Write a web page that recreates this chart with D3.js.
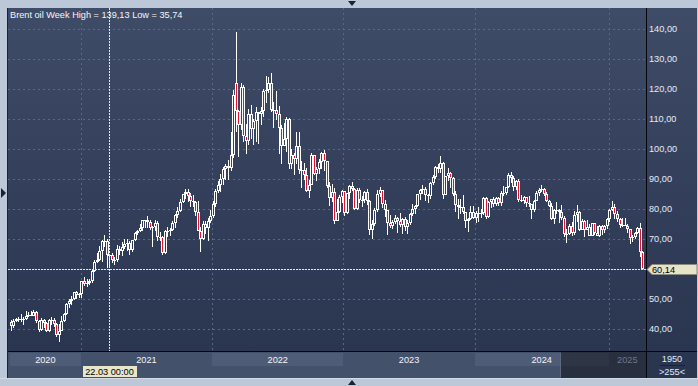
<!DOCTYPE html>
<html><head><meta charset="utf-8">
<script src="https://cdn.jsdelivr.net/npm/d3@7/dist/d3.min.js"></script>
<style>
html,body{margin:0;padding:0;background:#bcc8d8;}
svg{display:block;}
text{font-family:"Liberation Sans",Arial,sans-serif;}
</style>
</head><body>
<svg id="c" width="698" height="386"></svg>
<script>
// ---------- DATA ----------
const instrument = "Brent oil";
const period = "Week";
const firstWeek = "2020-06-22";   // Monday of the first weekly bar
// weekly OHLC, 2020-06-22 ... 2025-04-07
const opens = [
 42.2,41.0,42.8,43.2,43.1,43.3,43.5,44.4,44.8,44.35,45.8,42.7,39.8,43.15,41.9,39.3,42.85,42.9,41.8,37.9,39.45,42.8,44.96,48.2,49.25,49.97,52.26,51.29,
 51.8,55.99,55.1,55.41,55.88,59.34,62.43,62.91,66.13,69.36, 69.22,64.53,64.57,62.95,62.95,66.77,66.11,67.25,68.28,68.71, 66.44,69.63,71.89,72.69,73.51,76.18,76.17,75.55,73.59,74.1, 75.41,70.7,70.59,65.18,72.7,72.61,72.92,75.34,78.09,79.28, 82.39,84.86,85.53,84.38,82.74,82.17,78.89,72.72,69.88,75.15, 73.52,76.14,
 77.78,81.75,86.06,87.89,90.03,93.27,94.44,93.54,97.93,122.0, 112.67,107.93,120.65,104.39,102.78,111.7,106.65,109.34,112.39,111.55, 112.55,119.43,119.72,122.01,113.12,113.12,111.63,107.02,101.16,103.2, 110.01,94.92,98.15,96.72,100.99,93.02,92.84,91.35,86.15,87.96, 97.92,91.63,93.5,95.77,98.57,95.99,87.62,83.63,85.57,76.1, 79.04,83.92,
 85.91,78.57,85.28,87.63,86.66,79.94,86.39,83.0,83.16,85.83, 82.78,72.97,74.99,79.77,85.12,86.31,81.66,79.54,75.3,74.17, 75.58,76.95,76.13,74.79,76.61,73.85,75.41,78.47,79.87,81.07, 84.99,86.24,86.81,84.8,84.48,88.55,90.65,93.93,93.27,95.31, 84.58,90.89,92.16,90.48,84.89,81.43,80.61,80.58,78.88,75.84, 76.55,79.07,
 77.04,78.76,78.29,78.56,83.55,77.33,82.19,83.47,81.62,83.55, 82.08,85.34,85.43,87.48,91.17,90.45,87.29,89.5,82.96,82.79, 83.98,82.12,81.62,79.62,82.62,85.24,86.41,86.54,85.03,82.63, 81.13,76.81,79.66,79.68,79.02,76.93,71.61,71.61,74.49,71.98, 78.05,79.04,73.06,76.05,73.1,73.87,71.04,75.17,71.84,71.12, 74.49,72.94,74.17,
 76.51,79.76,80.79,78.5,76.76,74.66,74.74,74.43,73.18,70.36,70.58,72.16,73.63,65.58
];
const highs = [
 43.0,43.5,43.8,43.9,44.9,44.0,46.0,45.7,45.9,46.2,46.0,43.0,43.8,43.2,42.5,43.5,43.9,43.6,41.9,41.6,44.2,45.2,48.8,49.9,50.9,52.5,52.8,52.0,
 56.0,57.4,56.7,56.7,59.8,63.0,65.5,67.7,69.6,71.4, 69.9,65.0,65.4,64.1,67.9,67.6,69.0,69.9,70.0,69.3, 69.7,72.3,73.1,74.9,76.4,76.5,77.8,76.3,74.3,76.4, 75.9,72.3,70.9,72.9,74.0,73.6,76.0,78.5,80.8,83.5, 85.1,86.7,86.7,85.2,84.6,82.5,82.5,74.0,76.0,75.9, 76.9,79.7,
 82.5,86.7,89.5,91.7,94.0,95.0,96.2,105.8,119.8,139.13, 112.9,122.0,121.5,108.2,113.2,114.8,110.1,114.0,112.5,114.0, 120.0,124.4,124.0,125.2,115.7,119.5,114.3,108.0,108.8,110.8, 110.5,100.1,98.8,105.6,105.8,96.0,95.4,93.8,89.7,98.8, 98.0,94.0,96.7,98.9,99.6,96.0,89.0,88.5,87.0,83.3, 84.5,86.2,
 86.0,85.4,87.9,89.1,87.0,86.9,86.9,84.4,86.0,86.7, 82.9,76.5,80.4,86.4,87.5,86.4,83.0,79.8,77.9,76.4, 78.0,77.4,78.7,76.9,77.3,76.2,78.6,81.7,81.2,85.1, 86.7,88.1,87.2,85.1,88.9,91.2,94.3,95.0,97.7,95.6, 91.0,93.8,92.3,90.8,85.9,83.5,83.5,84.7,79.0,77.0, 80.9,81.1,
 79.3,80.7,80.1,84.0,84.0,82.6,83.5,84.0,84.0,84.0, 86.0,87.7,87.5,91.9,92.2,91.0,89.7,89.9,84.5,84.2, 84.0,84.2,81.8,83.0,86.0,87.0,88.0,87.0,85.8,83.0, 81.9,80.0,82.2,79.9,81.4,77.8,73.5,75.0,75.7,79.3, 81.2,79.5,76.6,76.2,76.2,75.0,75.5,75.3,74.3,74.6, 74.6,74.6,77.0,
 80.0,82.6,81.5,79.4,77.0,77.1,77.1,74.9,73.3,71.4,72.3,74.0,75.3,66.0
];
const lows = [
 39.5,40.5,42.2,42.2,42.5,41.5,43.0,44.0,44.2,44.2,42.0,39.0,39.3,40.5,38.9,39.0,41.5,40.6,37.3,35.74,39.3,42.3,44.8,47.0,48.1,49.8,49.9,50.3,
 50.4,54.5,54.1,54.6,55.5,59.1,61.9,62.6,62.3,67.3, 60.5,60.3,61.9,61.5,62.4,64.6,64.5,66.8,66.0,64.6, 65.6,69.4,71.3,72.5,72.8,73.6,73.7,72.9,67.4,72.8, 69.5,69.3,64.6,65.0,70.6,71.1,72.6,73.6,77.1,79.0, 82.0,83.5,82.2,80.6,80.7,77.7,72.6,65.7,69.8,71.6, 69.3,75.2,
 77.0,80.6,85.3,85.8,88.0,89.7,89.6,92.6,97.1,105.6, 97.4,106.5,102.5,98.5,101.5,103.3,101.4,102.5,101.7,108.0, 110.8,115.3,118.7,112.5,107.0,109.6,98.5,95.0,101.0,99.1, 93.2,93.5,91.5,95.0,91.8,87.0,89.8,85.8,83.7,87.9, 91.3,89.3,91.6,93.2,92.6,87.0,81.0,82.3,75.1,75.9, 78.6,82.0,
 77.6,78.4,83.3,85.9,79.7,79.6,82.0,80.6,82.0,81.3, 71.4,70.1,74.3,79.0,84.0,80.4,77.4,71.4,73.6,73.3, 75.0,71.9,74.0,71.6,72.7,71.8,74.6,77.8,78.5,80.7, 83.0,84.9,82.6,82.0,83.3,88.0,90.0,92.0,92.0,83.4, 84.5,89.3,87.0,84.2,79.0,76.6,78.4,78.4,73.8,72.3, 76.4,76.8,
 75.3,75.6,76.9,78.0,76.8,77.0,80.3,80.8,80.9,81.0, 81.0,84.2,84.8,87.0,88.8,86.1,86.3,82.4,82.2,81.5, 80.7,80.6,76.8,79.1,82.5,84.4,85.5,84.3,82.2,80.7, 76.3,75.1,78.4,75.5,76.5,70.8,68.7,71.4,70.9,71.4, 75.8,72.6,73.0,70.8,72.9,70.9,70.9,71.2,70.9,70.7, 71.4,72.1,73.5,
 75.8,79.2,76.8,75.6,73.8,74.0,74.4,71.9,68.3,69.0,70.1,71.6,64.0,59.8
];
const closes = [
 41.0,42.8,43.2,43.1,43.3,43.5,44.4,44.8,44.35,45.8,42.7,39.8,43.15,41.9,39.3,42.85,42.9,41.8,37.9,39.45,42.8,44.96,48.2,49.25,49.97,52.26,51.29,51.8,
 55.99,55.1,55.41,55.88,59.34,62.43,62.91,66.13,69.36,69.22, 64.53,64.57,62.95,62.95,66.77,66.11,67.25,68.28,68.71,66.44, 69.63,71.89,72.69,73.51,76.18,76.17,75.55,73.59,74.1,75.41, 70.7,70.59,65.18,72.7,72.61,72.92,75.34,78.09,79.28,82.39, 84.86,85.53,84.38,82.74,82.17,78.89,72.72,69.88,75.15,73.52, 76.14,77.78,
 81.75,86.06,87.89,90.03,93.27,94.44,93.54,97.93,118.11,112.67, 107.93,120.65,104.39,102.78,111.7,106.65,109.34,112.39,111.55,112.55, 119.43,119.72,122.01,113.12,113.12,111.63,107.02,101.16,103.2,110.01, 94.92,98.15,96.72,100.99,93.02,92.84,91.35,86.15,87.96,97.92, 91.63,93.5,95.77,98.57,95.99,87.62,83.63,85.57,76.1,79.04, 83.92,85.91,
 78.57,85.28,87.63,86.66,79.94,86.39,83.0,83.16,85.83,82.78, 72.97,74.99,79.77,85.12,86.31,81.66,79.54,75.3,74.17,75.58, 76.95,76.13,74.79,76.61,73.85,75.41,78.47,79.87,81.07,84.99, 86.24,86.81,84.8,84.48,88.55,90.65,93.93,93.27,95.31,84.58, 90.89,92.16,90.48,84.89,81.43,80.61,80.58,78.88,75.84,76.55, 79.07,77.04,
 78.76,78.29,78.56,83.55,77.33,82.19,83.47,81.62,83.55,82.08, 85.34,85.43,87.48,91.17,90.45,87.29,89.5,82.96,82.79,83.98, 82.12,81.62,79.62,82.62,85.24,86.41,86.54,85.03,82.63,81.13, 76.81,79.66,79.68,79.02,76.93,71.61,71.61,74.49,71.98,78.05, 79.04,73.06,76.05,73.1,73.87,71.04,75.17,71.84,71.12,74.49, 72.94,74.17,76.51,
 79.76,80.79,78.5,76.76,74.66,74.74,74.43,73.18,70.36,70.58,72.16,73.63,65.58,60.14
];
const yTicks = [40,50,60,70,80,90,100,110,120,130,140];
const yearLabels = ["2020","2021","2022","2023","2024","2025"];
const shadedYears = ["2020","2022","2024"];
const crosshairWeek = "2021-03-22";
const crosshairLabel = "22.03 00:00";
const scrollShadeFrom = "2024-08-26";
const cornerTop = "1950";
const cornerBottom = ">255<";

// ---------- LAYOUT ----------
const W = 698, H = 386;
const frame = {l: 8, t: 8, r: 697, b: 378};
const plot = {l: 8, r: 646, t: 8, b: 352};
const FONT = 9.2;

const svg = d3.select("#c");
const parse = d3.timeParse("%Y-%m-%d");
const start = parse(firstWeek);
const dates = opens.map((_, i) => d3.timeMonday.offset(start, i));
const data = dates.map((d, i) => ({d, o: opens[i], h: highs[i], l: lows[i], c: closes[i]}));

const x = d3.scaleBand().domain(dates.map(d => +d)).range([10, 644]).paddingInner(0).paddingOuter(0);
const y = d3.scaleLinear().domain([40, 140]).range([329, 29]);
const fmt = v => d3.format(".2f")(v).replace(".", ",");

// defs
const defs = svg.append("defs");
const g1 = defs.append("linearGradient").attr("id", "bg")
  .attr("gradientUnits", "userSpaceOnUse").attr("x1", 0).attr("y1", plot.t).attr("x2", 0).attr("y2", plot.b);
g1.append("stop").attr("offset", 0).attr("stop-color", "#3f4c67");
g1.append("stop").attr("offset", 1).attr("stop-color", "#2a3550");
defs.append("clipPath").attr("id", "pc").append("rect")
  .attr("x", plot.l).attr("y", plot.t).attr("width", plot.r - plot.l).attr("height", plot.b - plot.t);

// outer light background
svg.append("rect").attr("width", W).attr("height", H).attr("fill", "#bcc8d8");
// dark container
svg.append("rect").attr("x", frame.l).attr("y", frame.t).attr("width", frame.r - frame.l).attr("height", frame.b - frame.t)
  .attr("fill", "url(#bg)");
// left dark border
svg.append("rect").attr("x", 7).attr("y", frame.t).attr("width", 1).attr("height", frame.b - frame.t).attr("fill", "#1b2234");
// bottom light line
svg.append("rect").attr("x", 0).attr("y", frame.b).attr("width", W).attr("height", 1).attr("fill", "#d3dbe6");

// arrows
svg.append("path").attr("d", "M348,1 L356,1 L352,6 Z").attr("fill", "#1b2236");
svg.append("path").attr("d", "M348,385 L356,385 L352,380 Z").attr("fill", "#1b2236");
svg.append("path").attr("d", "M1,188 L1,198 L6,193 Z").attr("fill", "#1b2236");

// x axis band
const band = svg.append("g");
band.append("rect").attr("x", plot.l).attr("y", plot.b).attr("width", plot.r - plot.l).attr("height", frame.b - plot.b)
  .attr("fill", "#44516a");
const yearStarts = yearLabels.map(yr => dates.findIndex(d => d.getFullYear() === +yr));
const yearBlocks = yearLabels.map((yr, k) => {
  const x0 = x(+dates[yearStarts[k]]);
  const x1 = k + 1 < yearLabels.length ? x(+dates[yearStarts[k + 1]]) : x.range()[1] + 2;
  return {yr, x0, x1};
});
band.selectAll("rect.yb").data(yearBlocks.filter(b => shadedYears.includes(b.yr))).join("rect")
  .attr("class", "yb").attr("x", b => Math.round(b.x0)).attr("y", plot.b + 1)
  .attr("width", b => Math.round(b.x1) - Math.round(b.x0)).attr("height", 13).attr("fill", "#4f5c77");
// scroll shade
const shadeX = Math.round(x(+d3.timeMonday.floor(parse(scrollShadeFrom))));
band.append("rect").attr("x", shadeX).attr("y", plot.b).attr("width", plot.r - shadeX).attr("height", frame.b - plot.b)
  .attr("fill", "#000").attr("opacity", 0.41);
band.append("rect").attr("x", shadeX - 1).attr("y", plot.b + 1).attr("width", 1).attr("height", frame.b - plot.b - 2)
  .attr("fill", "#5d6981");
band.selectAll("text.yl").data(yearBlocks).join("text").attr("class", "yl")
  .attr("x", b => (b.x0 + b.x1) / 2).attr("y", 363).attr("text-anchor", "middle")
  .attr("font-size", FONT).attr("fill", b => (b.x0 + b.x1) / 2 > shadeX ? "#6c7891" : "#f2f5fa").text(b => b.yr);

// grid
const grid = svg.append("g").attr("clip-path", "url(#pc)");
grid.selectAll("line.hg").data(yTicks).join("line").attr("class", "hg")
  .attr("x1", plot.l).attr("x2", plot.r).attr("y1", v => Math.round(y(v)) + 0.5).attr("y2", v => Math.round(y(v)) + 0.5)
  .attr("stroke", "#5b6883").attr("stroke-width", 1).attr("stroke-dasharray", "2,3");
grid.selectAll("line.vg").data(yearBlocks.slice(1)).join("line").attr("class", "vg")
  .attr("x1", b => Math.round(b.x0) + 0.5).attr("x2", b => Math.round(b.x0) + 0.5).attr("y1", plot.t).attr("y2", plot.b)
  .attr("stroke", "#5b6883").attr("stroke-width", 1).attr("stroke-dasharray", "2,3");

// candles
const cg = svg.append("g").attr("clip-path", "url(#pc)").attr("shape-rendering", "crispEdges");
data.forEach(d => {
  const cx = Math.floor(x(+d.d) + x.bandwidth() / 2);
  const top = Math.round(y(Math.max(d.o, d.c)));
  const bot = Math.round(y(Math.min(d.o, d.c)));
  const hy = Math.round(y(d.h)), ly = Math.round(y(d.l));
  cg.append("rect").attr("x", cx).attr("y", hy).attr("width", 1).attr("height", Math.max(1, ly - hy)).attr("fill", "#ffffff");
  const hgt = Math.max(1, bot - top);
  cg.append("rect").attr("x", cx - 1).attr("y", top).attr("width", 3).attr("height", hgt).attr("fill", "#ffffff");
  if (hgt >= 3) {
    cg.append("rect").attr("x", cx).attr("y", top + 1).attr("width", 1).attr("height", hgt - 2)
      .attr("fill", d.c < d.o ? "#e3102e" : "url(#bg)");
  }
});

// last price line
const last = data[data.length - 1];
const py = Math.round(y(last.c));
svg.append("line").attr("x1", plot.l).attr("x2", plot.r).attr("y1", py + 0.5).attr("y2", py + 0.5)
  .attr("stroke", "#e6e6e6").attr("stroke-dasharray", "2,1");

// crosshair
const chx = Math.round(x(+parse(crosshairWeek))) + 0.5;
svg.append("line").attr("x1", chx).attr("x2", chx).attr("y1", plot.t).attr("y2", plot.b)
  .attr("stroke", "#e8e8e8").attr("stroke-dasharray", "2,1");

// frame lines
svg.append("rect").attr("x", plot.r).attr("y", plot.t).attr("width", 1).attr("height", frame.b - plot.t).attr("fill", "#05070c");
svg.append("rect").attr("x", plot.l).attr("y", plot.b - 1).attr("width", frame.r - plot.l).attr("height", 1).attr("fill", "#05070c");

// y axis labels (the one hidden behind the price label is not drawn)
svg.selectAll("text.yt").data(yTicks.filter(v => Math.abs(y(v) - py) > 9)).join("text").attr("class", "yt")
  .attr("x", 649).attr("y", v => y(v) + 3.4).attr("font-size", FONT).attr("fill", "#e4ebf7").text(v => fmt(v));

// price label
svg.append("path").attr("d", `M647,${py + 0.5} L652,${py - 4.5} L697,${py - 4.5} L697,${py + 5.5} L652,${py + 5.5} Z`)
  .attr("fill", "#e5e3c9").attr("stroke", "#8d8c7c").attr("stroke-width", 1);
svg.append("text").attr("x", 652).attr("y", py + 4).attr("font-size", FONT).attr("fill", "#000").text(fmt(last.c));

// crosshair date label
const cl = svg.append("g");
const clText = cl.append("text").attr("x", chx).attr("y", 375).attr("text-anchor", "middle")
  .attr("font-size", FONT).attr("fill", "#000").text(crosshairLabel);
const bb = clText.node().getBBox();
cl.insert("rect", "text").attr("x", Math.round(bb.x - 2.5)).attr("y", 366).attr("width", Math.round(bb.width + 5)).attr("height", 11)
  .attr("fill", "#e8e6cb");

// corner box
svg.append("text").attr("x", 672).attr("y", 362).attr("text-anchor", "middle").attr("font-size", FONT).attr("fill", "#e4ebf7").text(cornerTop);
svg.append("rect").attr("x", 660).attr("y", 365).attr("width", 25).attr("height", 1).attr("fill", "#1b2234");
svg.append("text").attr("x", 672).attr("y", 374.5).attr("text-anchor", "middle").attr("font-size", FONT).attr("fill", "#e4ebf7").text(cornerBottom);

// title
const hi = d3.max(highs), lo = d3.min(lows);
svg.append("text").attr("x", 10).attr("y", 18).attr("font-size", FONT).attr("fill", "#f4f6fa")
  .text(`${instrument} ${period} High = ${fmt(hi)} Low = ${fmt(lo)}`);
</script>
</body></html>
